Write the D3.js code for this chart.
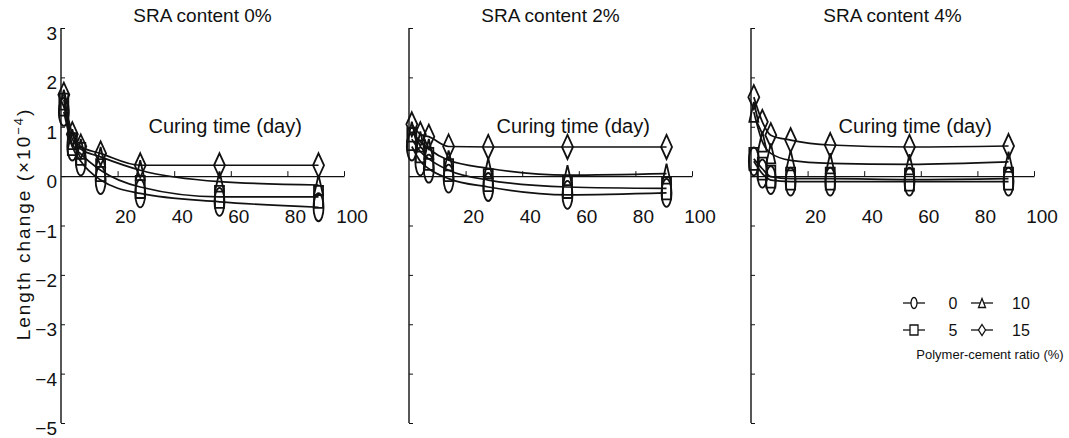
<!DOCTYPE html>
<html>
<head>
<meta charset="utf-8">
<script src="https://cdn.jsdelivr.net/npm/d3@7"></script>
<style>
  body { margin: 0; background: #fff; }
  text { font-family: "Liberation Sans", Arial, sans-serif; fill: #111; }
</style>
</head>
<body>
<div id="chart"></div>
<script>
// curing days and panel titles
var days = [1, 4, 7, 14, 28, 56, 91];
var panelTitles = ["SRA content 0%", "SRA content 2%", "SRA content 4%"];
var pcRatios = [0, 5, 10, 15];
var xTicks = [20, 40, 60, 80, 100];
var yTicks = [3, 2, 1, 0, -1, -2, -3, -4, -5];

// length change (x10^-4) per polymer-cement ratio, SRA 0%
var sra0_pc0 = [1.3, 0.6, 0.3, -0.08, -0.35, -0.52, -0.63];
var sra0_pc5 = [1.45, 0.65, 0.45, 0.12, -0.22, -0.42, -0.42];
var sra0_pc10 = [1.55, 0.75, 0.55, 0.39, 0.12, -0.11, -0.18];
var sra0_pc15 = [1.65, 0.85, 0.6, 0.46, 0.22, 0.22, 0.22];
// SRA 2%
var sra2_pc0 = [0.6, 0.3, 0.15, -0.05, -0.22, -0.38, -0.34];
var sra2_pc5 = [0.75, 0.5, 0.35, 0.12, -0.08, -0.22, -0.25];
var sra2_pc10 = [0.9, 0.7, 0.55, 0.32, 0.16, 0.02, 0.05];
var sra2_pc15 = [1.05, 0.85, 0.8, 0.6, 0.59, 0.59, 0.59];
// SRA 4%
var sra4_pc0 = [0.3, 0.05, -0.08, -0.11, -0.11, -0.11, -0.11];
var sra4_pc5 = [0.35, 0.15, -0.01, -0.05, -0.05, -0.07, -0.05];
var sra4_pc10 = [1.3, 0.7, 0.46, 0.32, 0.26, 0.24, 0.29];
var sra4_pc15 = [1.6, 1.1, 0.83, 0.73, 0.63, 0.59, 0.61];

var panels = [
  [sra0_pc0, sra0_pc5, sra0_pc10, sra0_pc15],
  [sra2_pc0, sra2_pc5, sra2_pc10, sra2_pc15],
  [sra4_pc0, sra4_pc5, sra4_pc10, sra4_pc15]
];

var svgWidth = 1069, svgHeight = 438;
var panelLeft = [61, 409, 751];
var panelWidth = 283;
var shapes = ["ellipse", "rect", "triangle", "diamond"];
var shapeSize = {ellipse: [10, 28], rect: [9, 22], triangle: [9, 20], diamond: [11, 24]};

function shapePath(kind, w, h) {
  var a = w / 2, b = h / 2;
  if (kind === "ellipse") return `M${-a},0A${a},${b} 0 1,0 ${a},0A${a},${b} 0 1,0 ${-a},0Z`;
  if (kind === "rect") return `M${-a},${-b}H${a}V${b}H${-a}Z`;
  if (kind === "triangle") return `M0,${-b}L${a},${b}H${-a}Z`;
  return `M0,${-b}L${a},0L0,${b}L${-a},0Z`;
}

var svg = d3.select("#chart")
  .append("svg")
  .attr("width", svgWidth)
  .attr("height", svgHeight);

var y = d3.scaleLinear().domain([-5, 3]).range([423, 28]);

panels.forEach(function(series, p) {
  var x = d3.scaleLinear().domain([0, 100]).range([panelLeft[p], panelLeft[p] + panelWidth]);
  var g = svg.append("g");

  // y axis with small inward ticks
  var yAxis = g.append("g")
    .attr("transform", `translate(${panelLeft[p]},0)`)
    .call(d3.axisRight(y).tickValues(yTicks).tickSize(4).tickFormat(""));
  yAxis.select(".domain").attr("d", `M0,${y(3)}V${y(-5)}`).attr("stroke", "#111").attr("stroke-width", 1.4);
  yAxis.selectAll(".tick line").attr("stroke", "#111");

  if (p === 0) {
    g.selectAll(".ylab")
      .data(yTicks)
      .enter()
      .append("text")
      .attr("x", panelLeft[p] - 4)
      .attr("y", d => y(d) + 12)
      .attr("text-anchor", "end")
      .attr("font-size", 19)
      .text(d => d < 0 ? "\u2212" + Math.abs(d) : d);
  }

  // x axis along zero, ticks pointing up
  var xAxis = g.append("g")
    .attr("transform", `translate(0,${y(0)})`)
    .call(d3.axisTop(x).tickValues(xTicks).tickSize(5).tickSizeOuter(0).tickFormat(""));
  xAxis.select(".domain").attr("stroke", "#111").attr("stroke-width", 1.2);
  xAxis.selectAll(".tick line").attr("stroke", "#111");

  g.selectAll(".xlab")
    .data(xTicks)
    .enter()
    .append("text")
    .attr("x", d => x(d) + 8)
    .attr("y", y(-0.8) + 7)
    .attr("text-anchor", "middle")
    .attr("font-size", 19)
    .text(d => d);

  g.append("text")
    .attr("x", x(50))
    .attr("y", 22)
    .attr("text-anchor", "middle")
    .attr("font-size", 19)
    .text(panelTitles[p]);

  g.append("text")
    .attr("x", x(58))
    .attr("y", y(0.88))
    .attr("text-anchor", "middle")
    .attr("font-size", 20)
    .text("Curing time (day)");

  var line = d3.line()
    .x((d, i) => x(days[i]))
    .y(d => y(d))
    .curve(d3.curveMonotoneX);

  series.forEach(function(vals, s) {
    g.append("path")
      .attr("d", line(vals))
      .attr("fill", "none")
      .attr("stroke", "#111")
      .attr("stroke-width", 1.7);

    var sz = shapeSize[shapes[s]];
    g.selectAll(".m" + s)
      .data(vals)
      .enter()
      .append("path")
      .attr("transform", (d, i) => `translate(${x(days[i])},${y(d)})`)
      .attr("d", shapePath(shapes[s], sz[0], sz[1]))
      .attr("fill", "none")
      .attr("stroke", "#111")
      .attr("stroke-width", 1.8);
  });
});

// y axis title
svg.append("text")
  .attr("transform", `translate(30,224) rotate(-90)`)
  .attr("text-anchor", "middle")
  .attr("font-size", 19)
  .attr("letter-spacing", 2)
  .text("Length change (\u00d710")
  .append("tspan")
  .attr("dy", -7)
  .attr("font-size", 13)
  .text("\u22124")
  .append("tspan")
  .attr("dy", 7)
  .attr("font-size", 19)
  .text(")");

// legend
var legendX = [914, 982];
var legendY = [303, 330];
var legendSize = {ellipse: [6, 11], rect: [8, 10], triangle: [7, 9], diamond: [7, 11]};
var legend = svg.append("g");
pcRatios.forEach(function(r, i) {
  var lx = legendX[Math.floor(i / 2)], ly = legendY[i % 2];
  legend.append("line")
    .attr("x1", lx - 11).attr("x2", lx + 11)
    .attr("y1", ly).attr("y2", ly)
    .attr("stroke", "#111").attr("stroke-width", 1.3);
  var sz = legendSize[shapes[i]];
  legend.append("path")
    .attr("transform", `translate(${lx},${ly})`)
    .attr("d", shapePath(shapes[i], sz[0], sz[1]))
    .attr("fill", "#fff")
    .attr("stroke", "#111")
    .attr("stroke-width", 1.3);
  legend.append("text")
    .attr("x", lx + 39)
    .attr("y", ly + 6)
    .attr("text-anchor", "middle")
    .attr("font-size", 16)
    .text(r);
});
legend.append("text")
  .attr("x", 990)
  .attr("y", 359)
  .attr("text-anchor", "middle")
  .attr("font-size", 13)
  .text("Polymer-cement ratio (%)");
</script>
</body>
</html>
